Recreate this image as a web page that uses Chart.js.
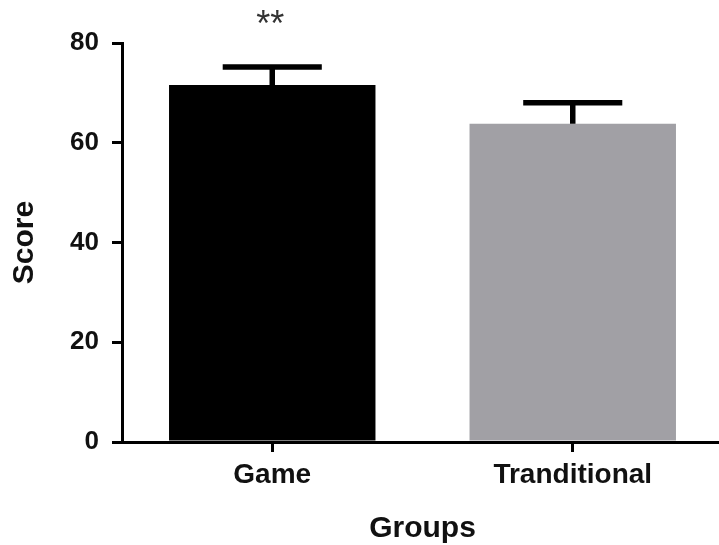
<!DOCTYPE html>
<html>
<head>
<meta charset="utf-8">
<script src="https://cdn.jsdelivr.net/npm/chart.js@4/dist/chart.umd.min.js"></script>
<style>
  html, body { margin: 0; padding: 0; background: #fff; overflow: hidden; }
  #wrap { width: 723px; height: 545px; }
</style>
</head>
<body>
<div id="wrap"><canvas id="c" width="723" height="545"></canvas></div>
<script>
// Group means and their standard errors
const groups = ['Game', 'Tranditional'];
const meanScores = [71.6, 63.8];
const errorValues = [3.6, 4.2];
const significance = ['**', ''];
const barColors = ['#000000', '#a1a0a5'];
const yTicks = [0, 20, 40, 60, 80];

// Upper error bars with caps, plus significance marks above them
const errorBarPlugin = {
  id: 'errorBars',
  afterDatasetsDraw(chart) {
    const { ctx, scales: { y } } = chart;
    const meta = chart.getDatasetMeta(0);
    ctx.save();
    ctx.strokeStyle = '#000';
    ctx.lineWidth = 5.5;
    ctx.lineCap = 'butt';
    meta.data.forEach((bar, i) => {
      const x = bar.x;
      const yBar = y.getPixelForValue(meanScores[i]);
      const yTop = y.getPixelForValue(meanScores[i] + errorValues[i]);
      const half = bar.width * 0.24;
      ctx.beginPath();
      ctx.moveTo(x, yBar);
      ctx.lineTo(x, yTop);
      ctx.moveTo(x - half, yTop);
      ctx.lineTo(x + half, yTop);
      ctx.stroke();
      if (significance[i]) {
        ctx.fillStyle = '#333';
        ctx.font = '36px "Liberation Sans", Arial, sans-serif';
        ctx.textAlign = 'center';
        ctx.textBaseline = 'alphabetic';
        ctx.fillText(significance[i], x - 2, 36);
      }
    });
    ctx.restore();
  }
};

new Chart(document.getElementById('c'), {
  type: 'bar',
  data: {
    labels: groups,
    datasets: [{
      data: meanScores,
      backgroundColor: barColors,
      borderWidth: 0,
      categoryPercentage: 1.0,
      barPercentage: 0.687
    }]
  },
  options: {
    responsive: false,
    animation: false,
    layout: { padding: { top: 43, left: 0, right: 0, bottom: 0 } },
    plugins: { legend: { display: false }, tooltip: { enabled: false } },
    scales: {
      x: {
        afterFit(scale) { scale.height = 103; },
        grid: { display: true, offset: false, drawOnChartArea: false, drawTicks: true, tickLength: 10, lineWidth: 3, color: '#000' },
        border: { display: true, color: '#000', width: 3 },
        ticks: { color: '#111', padding: 6, font: { family: '"Liberation Sans", Arial, sans-serif', size: 28, weight: 'bold' } },
        title: { display: true, text: 'Groups', color: '#111', padding: { top: 0, bottom: 1 }, font: { family: '"Liberation Sans", Arial, sans-serif', size: 30, weight: 'bold', lineHeight: 1 } }
      },
      y: {
        min: 0,
        max: 80,
        afterFit(scale) { scale.width = 122; },
        afterBuildTicks(scale) { scale.ticks = yTicks.map(v => ({ value: v })); },
        grid: { display: true, drawOnChartArea: false, drawTicks: true, tickLength: 10, lineWidth: 3, color: '#000' },
        border: { display: true, color: '#000', width: 3 },
        ticks: { color: '#111', padding: 13, font: { family: '"Liberation Sans", Arial, sans-serif', size: 26, weight: 'bold' } },
        title: { display: true, text: 'Score', color: '#111', padding: { top: 7, bottom: 0 }, font: { family: '"Liberation Sans", Arial, sans-serif', size: 30, weight: 'bold', lineHeight: 1.2 } }
      }
    }
  },
  plugins: [errorBarPlugin]
});
</script>
</body>
</html>
